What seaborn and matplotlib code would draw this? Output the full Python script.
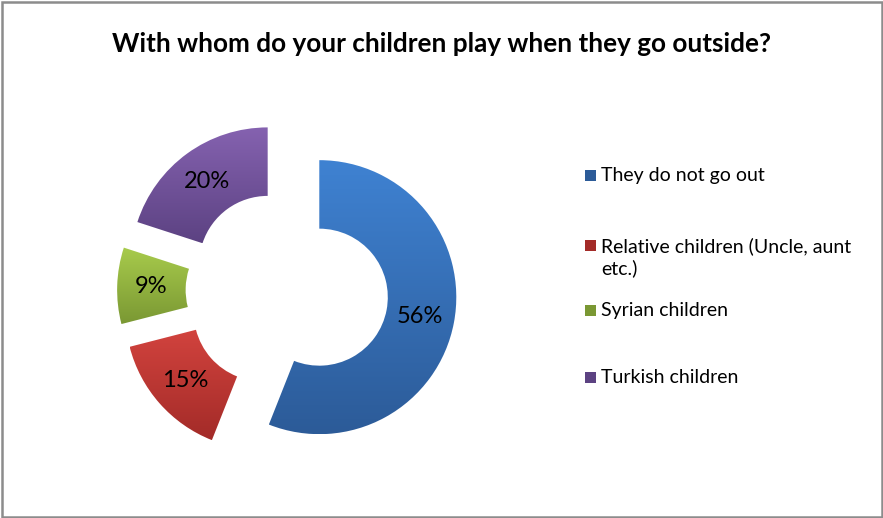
import numpy as np
import matplotlib
matplotlib.use("Agg")
import matplotlib.pyplot as plt
from matplotlib.patches import Rectangle
from matplotlib.colors import LinearSegmentedColormap
import seaborn as sns

sns.set_theme(style="white")
plt.rcParams["font.family"] = ["Lato", "DejaVu Sans"]

# Survey answers
categories = ["They do not go out", "Relative children (Uncle, aunt\netc.)",
              "Syrian children", "Turkish children"]
shares = [56, 15, 9, 20]
# top / bottom shades of each slice gradient
top_colors = ["#3f82d2", "#d2433e", "#a8cb4c", "#8562b0"]
bottom_colors = ["#2c5b98", "#a32b28", "#7a9833", "#5c4282"]

W, H = 883, 518
fig = plt.figure(figsize=(W / 100, H / 100), dpi=100)
fig.patch.set_facecolor("white")

# donut centre (287, 291) px, radius 137 px
R = 137
cx, cy = 287, 291
half = 1.5 * R
ax = fig.add_axes([(cx - half) / W, (H - cy - half) / H, 2 * half / W, 2 * half / H])

wedges, texts, autotexts = ax.pie(
    shares, startangle=90, counterclock=False, explode=[0.24] * 4,
    autopct="%d%%", pctdistance=0.75, radius=1,
    wedgeprops=dict(width=0.5, linewidth=0),
    textprops=dict(fontsize=17, color="black"),
)

for w, c0, c1 in zip(wedges, top_colors, bottom_colors):
    ext = w.get_path().get_extents()
    cmap = LinearSegmentedColormap.from_list("g", [c1, c0])
    grad = np.linspace(0, 1, 256).reshape(-1, 1)
    im = ax.imshow(grad, cmap=cmap, origin="lower", aspect="auto",
                   extent=[ext.x0, ext.x1, ext.y0, ext.y1], zorder=1)
    im.set_clip_path(w)
    w.set_facecolor("none")
for t in autotexts:
    t.set_zorder(5)

ax.set_xlim(-1.5, 1.5)
ax.set_ylim(-1.5, 1.5)
ax.set_aspect("equal")
ax.axis("off")

fig.text(442 / W, 1 - 52 / H, "With whom do your children play when they go outside?",
         ha="center", va="baseline", fontsize=18.8, fontweight="bold", color="black")

# legend: first-line baselines in px from the top, 23 px per extra line
legend_base = [181, 251, 316, 383]
line_step = 23
for lab, y, c0, c1 in zip(categories, legend_base, top_colors, bottom_colors):
    fig.patches.append(Rectangle((585 / W, 1 - y / H), 11 / W, 11 / H,
                                 transform=fig.transFigure, facecolor=c1,
                                 edgecolor="none"))
    last = y + line_step * lab.count("\n")
    fig.text(601 / W, 1 - last / H, lab, ha="left", va="baseline",
             fontsize=14, color="black", linespacing=1.28)

fig.patches.append(Rectangle((1.5 / W, 1.5 / H), (W - 3) / W, (H - 3) / H,
                             transform=fig.transFigure, facecolor="none",
                             edgecolor="#8c8c8c", linewidth=1.8))

fig.savefig("out.png", dpi=100)
